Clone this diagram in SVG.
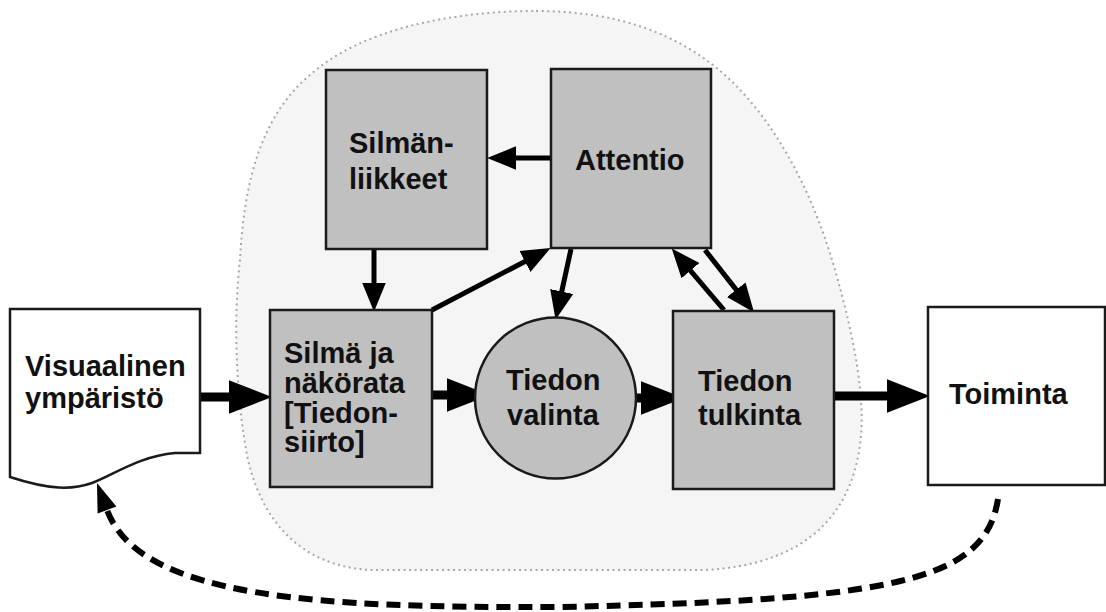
<svg xmlns="http://www.w3.org/2000/svg" width="1106" height="612" viewBox="0 0 1106 612">
  <style>
    .lbl { font-family: "Liberation Sans", Arial, sans-serif; font-weight: bold; font-size: 29px; fill: #111; }
    .box { fill: #c0c0c0; stroke: #1a1a1a; stroke-width: 2.5; }
    .plain { fill: #ffffff; stroke: #1a1a1a; stroke-width: 2.5; }
    .thick { stroke: #000; stroke-width: 9; fill: none; }
    .thin { stroke: #000; stroke-width: 5; fill: none; }
    .loop { stroke: #000; stroke-width: 6; fill: none; stroke-dasharray: 14 8; }
  </style>
  <defs>
    <marker id="headBig" markerUnits="userSpaceOnUse" markerWidth="44" markerHeight="36" viewBox="-1 -17 42 34" refX="0" refY="0" orient="auto">
      <path d="M-1,-16 L40,0 L-1,16 Z" fill="#000"/>
    </marker>
    <marker id="headSmall" markerUnits="userSpaceOnUse" markerWidth="30" markerHeight="26" viewBox="-1 -12 28 24" refX="0" refY="0" orient="auto">
      <path d="M-1,-11 L26,0 L-1,11 Z" fill="#000"/>
    </marker>
  </defs>

  <rect width="1106" height="612" fill="#ffffff"/>

  <!-- shaded processing region -->
  <path id="region" d="M 536 11 C 620 11 680 35 725 75 C 780 125 815 200 835 270 C 855 340 866 400 860 445 C 850 520 800 565 705 570 L 370 570 C 300 566 262 520 248 460 C 236 400 233 320 240 260 C 244 180 262 115 310 75 C 360 30 450 11 536 11 Z" fill="#f5f5f5" stroke="#a8a8a8" stroke-width="2" stroke-dasharray="2 3.5"/>

  <g id="connectors">
    <!-- main flow -->
    <path class="thick" d="M 200 397 L 230 397" marker-end="url(#headBig)"/>
    <path class="thick" d="M 432 395 L 448 395" marker-end="url(#headBig)"/>
    <path class="thick" d="M 636 398 L 642 398" marker-end="url(#headBig)"/>
    <path class="thick" d="M 834 396 L 888 396" marker-end="url(#headBig)"/>
    <!-- attention links -->
    <path class="thin" d="M 551 158 L 515 158" marker-end="url(#headSmall)"/>
    <path class="thin" d="M 374 249 L 374 284" marker-end="url(#headSmall)"/>
    <path class="thin" d="M 432 310 L 525.9 261" marker-end="url(#headSmall)"/>
    <path class="thin" d="M 571 249 L 561.5 292.6" marker-end="url(#headSmall)"/>
    <path class="thin" d="M 724 310 L 689.8 269.8" marker-end="url(#headSmall)"/>
    <path class="thin" d="M 705 250 L 736.9 290.6" marker-end="url(#headSmall)"/>
    <!-- feedback loop -->
    <path class="loop" d="M 998 499 C 985 580 900 600 560 607 C 320 608 140 599 107 510"/>
    <path d="M 116.4 506.5 L 97 483 L 97.6 513.5 Z" fill="#000"/>
  </g>

  <g id="visuaalinen">
    <path class="plain" d="M 10 309 L 200 309 L 200 453 L 175 453 C 140 456 115 474 92 483 C 72 490 50 490 10 477 Z"/>
    <text class="lbl" x="25" y="376">Visuaalinen</text>
    <text class="lbl" x="25" y="408">ympäristö</text>
  </g>

  <g id="silma">
    <rect class="box" x="270" y="310" width="162" height="177"/>
    <text class="lbl" x="284" y="363">Silmä ja</text>
    <text class="lbl" x="284" y="393">näkörata</text>
    <text class="lbl" x="284" y="423">[Tiedon-</text>
    <text class="lbl" x="284" y="452">siirto]</text>
  </g>

  <g id="silmanliikkeet">
    <rect class="box" x="326" y="70" width="161" height="179"/>
    <text class="lbl" x="349" y="153">Silmän-</text>
    <text class="lbl" x="349" y="189">liikkeet</text>
  </g>

  <g id="attentio">
    <rect class="box" x="551" y="69" width="160" height="179"/>
    <text class="lbl" x="575" y="170">Attentio</text>
  </g>

  <g id="valinta">
    <circle class="box" cx="555.5" cy="398" r="80.5"/>
    <text class="lbl" x="506" y="390">Tiedon</text>
    <text class="lbl" x="507" y="425">valinta</text>
  </g>

  <g id="tulkinta">
    <rect class="box" x="673" y="311" width="161" height="178"/>
    <text class="lbl" x="698" y="391">Tiedon</text>
    <text class="lbl" x="698" y="425">tulkinta</text>
  </g>

  <g id="toiminta">
    <rect class="plain" x="928" y="307" width="177" height="178"/>
    <text class="lbl" x="949" y="404">Toiminta</text>
  </g>
</svg>
